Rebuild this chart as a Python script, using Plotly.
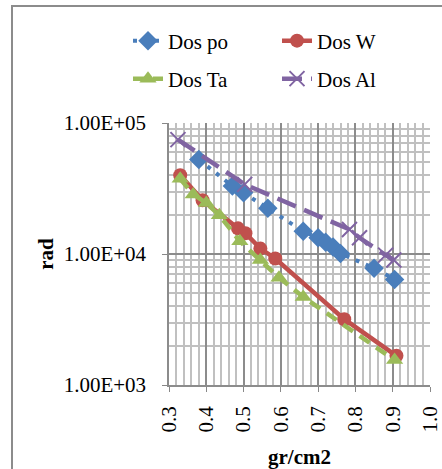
import plotly.graph_objects as go

# Data
po_x = [0.38, 0.47, 0.50, 0.565, 0.66, 0.70, 0.72, 0.74, 0.76, 0.85, 0.905]
po_y = [52600, 33000, 29300, 22300, 14900, 13300, 12300, 11300, 10100, 7800, 6400]

w_x = [0.33, 0.39, 0.485, 0.505, 0.545, 0.585, 0.77, 0.91]
w_y = [39900, 25700, 15700, 14400, 11000, 9250, 3180, 1670]

ta_x = [0.33, 0.365, 0.40, 0.435, 0.49, 0.545, 0.595, 0.66, 0.905]
ta_y = [37500, 28500, 24500, 19800, 12500, 9000, 6600, 4700, 1550]

al_x = [0.324, 0.503, 0.784, 0.811, 0.881, 0.903]
al_y = [74700, 34000, 15400, 13300, 9800, 9000]

x_ticks = [0.3, 0.4, 0.5, 0.6, 0.7, 0.8, 0.9, 1.0]
x_tick_labels = ["0.3", "0.4", "0.5", "0.6", "0.7", "0.8", "0.9", "1.0"]
y_ticks = [1e3, 1e4, 1e5]
y_tick_labels = ["1.00E+03", "1.00E+04", "1.00E+05"]

BLUE = "#4a7ebb"
RED = "#c0504d"
GREEN = "#9bbb59"
PURPLE = "#8064a2"
FONT = "Liberation Serif"
FS = 21

fig = go.Figure()
fig.add_trace(go.Scatter(
    x=po_x, y=po_y, name="Dos po", mode="lines+markers", legend="legend",
    line=dict(color=BLUE, width=4, dash="4px,7px"),
    marker=dict(symbol="diamond", size=15, color=BLUE)))
fig.add_trace(go.Scatter(
    x=w_x, y=w_y, name="Dos W", mode="lines+markers", legend="legend",
    line=dict(color=RED, width=4.5),
    marker=dict(symbol="circle", size=14, color=RED)))
fig.add_trace(go.Scatter(
    x=ta_x, y=ta_y, name="Dos Ta", mode="lines+markers", legend="legend2",
    line=dict(color=GREEN, width=4.5, dash="12px,8px"),
    marker=dict(symbol="triangle-up", size=15, color=GREEN)))
fig.add_trace(go.Scatter(
    x=al_x, y=al_y, name="Dos Al", mode="lines+markers", legend="legend2",
    line=dict(color=PURPLE, width=4.5, dash="20px,9px"),
    marker=dict(symbol="x-thin", size=15, color=PURPLE,
                line=dict(color=PURPLE, width=2))))

L, R, T, B = 169, 12, 123, 84
W, H = 442, 469
pw = W - L - R
ph = H - T - B

def px2paper_x(p):
    return (p - L) / pw

def px2paper_y(p):
    return (H - B - p) / ph

legend_common = dict(orientation="h", xanchor="left", yanchor="middle",
                     entrywidth=104, entrywidthmode="pixels",
                     font=dict(family=FONT, size=FS), bgcolor="rgba(0,0,0,0)")

fig.update_layout(
    width=W, height=H,
    margin=dict(l=L, r=R, t=T, b=B, autoexpand=False),
    paper_bgcolor="white", plot_bgcolor="white",
    font=dict(family=FONT, size=FS, color="black"),
    showlegend=True,
    legend=dict(x=px2paper_x(128), y=px2paper_y(41), **legend_common),
    legend2=dict(x=px2paper_x(128), y=px2paper_y(79), **legend_common),
    xaxis=dict(
        range=[0.3, 1.0], tickmode="array", tickvals=x_ticks, ticktext=x_tick_labels,
        tickangle=-90, ticks="outside", ticklen=5, tickcolor="#888",
        ticklabelstandoff=6, automargin=False,
        showgrid=True, gridcolor="#8c8c8c", gridwidth=1.5,
        minor=dict(dtick=0.02, showgrid=True, gridcolor="#c0c0c0", gridwidth=1.5),
        showline=True, linecolor="#8c8c8c", linewidth=1.5, mirror=False,
        zeroline=False,
        title=dict(text="<b>gr/cm2</b>", font=dict(family=FONT, size=FS), standoff=18),
        tickfont=dict(family=FONT, size=FS)),
    yaxis=dict(
        type="log", range=[3, 5], tickmode="array", tickvals=y_ticks, ticktext=y_tick_labels,
        ticks="outside", ticklen=5, tickcolor="#888",
        ticklabelstandoff=12, automargin=False,
        showgrid=True, gridcolor="#8c8c8c", gridwidth=1.5,
        minor=dict(dtick="D1", showgrid=True, gridcolor="#c0c0c0", gridwidth=1.5),
        showline=True, linecolor="#8c8c8c", linewidth=1.5,
        zeroline=False,
        title=dict(text="<b>rad</b>", font=dict(family=FONT, size=FS), standoff=4),
        tickfont=dict(family=FONT, size=FS)),
    shapes=[dict(type="rect", xref="paper", yref="paper",
                 x0=px2paper_x(12), x1=px2paper_x(470),
                 y0=px2paper_y(500), y1=px2paper_y(6),
                 line=dict(color="#8c8c8c", width=2), layer="below")],
)

fig.write_html("out.html")
